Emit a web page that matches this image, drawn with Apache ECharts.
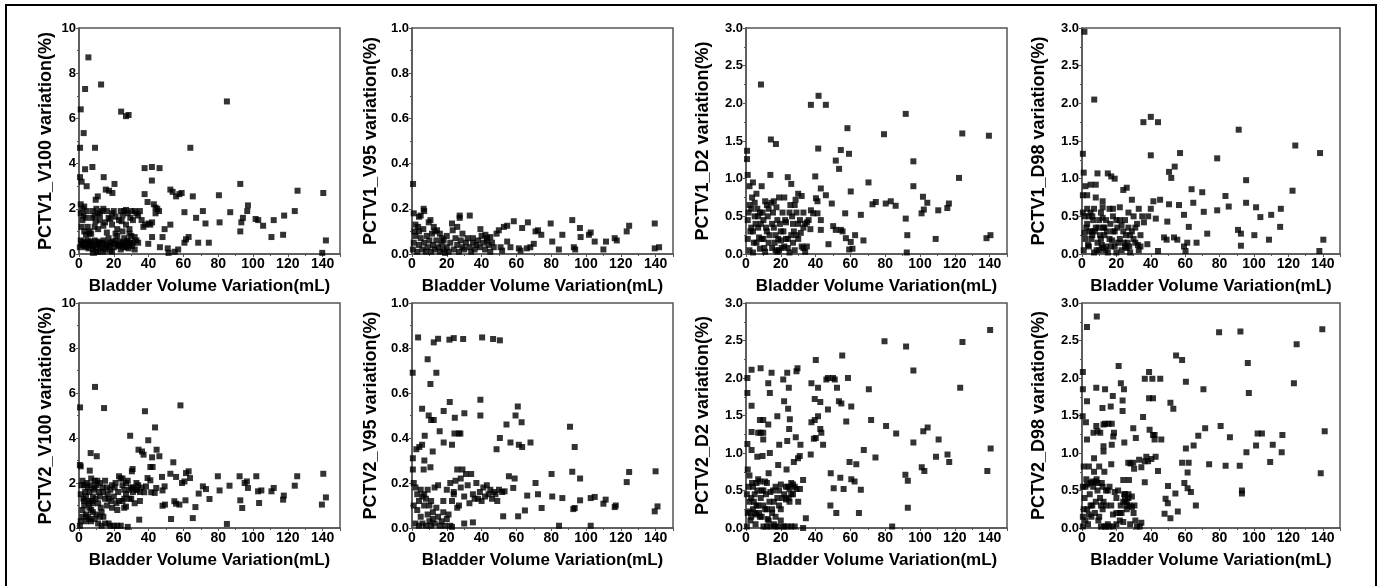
<!DOCTYPE html>
<html>
<head>
<meta charset="utf-8" />
<title>PCTV variation vs bladder volume</title>
<script src="https://cdn.jsdelivr.net/npm/echarts@6/dist/echarts.min.js"></script>
<style>
  html, body { margin: 0; padding: 0; background: #fff; }
  #main { width: 1381px; height: 586px; }
</style>
</head>
<body>
<div id="main"></div>
<script>
// [bladder volume variation (mL), dose/volume variation (%)]
var pctv1V100 = [
  [5.4,8.7],[3.5,7.3],[12.7,7.5],[1,6.4],[24.2,6.3],[27,6.1],[28.5,6.15],[85,6.75],[2.7,5.35],[0.6,4.7],
  [9.2,4.7],[64,4.7],[3.5,3.75],[7.7,3.85],[0.6,3.4],[1.5,3.2],[4.4,3.0],[14.2,3.4],[20.4,3.1],[37.7,3.8],
  [41.9,3.85],[46.3,3.8],[41.9,3.25],[15.4,2.85],[17.3,2.8],[19.2,2.7],[9.6,2.4],[10.8,2.55],[37.7,2.65],[39.4,2.3],
  [43,2.2],[44,2.05],[52.5,2.85],[53.8,2.75],[55.8,2.55],[57.7,2.65],[59,2.7],[65.4,2.55],[80.4,2.6],[92.7,3.1],
  [125.6,2.8],[140.4,2.7],[60.6,1.85],[67.3,1.6],[71.2,1.9],[72.7,1.35],[80.8,1.4],[86.9,1.85],[97.1,2.15],[96.7,1.9],
  [94.2,1.6],[93.3,1.4],[92.7,1.0],[101.5,1.55],[103,1.5],[105.8,1.25],[111.9,1.5],[117.9,1.7],[124,1.9],[110.6,0.75],
  [117.3,0.85],[141.9,0.6],[139.8,0.05],[74.6,0.5],[68.5,0.5],[60.6,0.5],[61.5,0.65],[63,0.75],[52.5,1.3],[49.2,1.1],
  [48,0.75],[51,0.25],[57,0.2],[46.5,0.3],[42,0.75],[39.8,0.45],[51.5,0.05],[55,0.1],
  [1,2.2],[2,2.0],[3,2.1],[1,1.8],[2,1.5],[4,1.6],[5,1.2],[6,1.0],[7,0.9],[8,1.9],
  [9,1.7],[10,2.0],[11,1.8],[12,1.5],[13,1.9],[14,2.0],[15,1.4],[17,1.6],[19,1.8],[19,1.3],
  [20,1.9],[22,1.1],[23,1.5],[24,1.9],[25,1.7],[26,1.9],[27,1.3],[28,1.8],[29,1.1],[30,1.9],
  [31,1.5],[33,1.8],[34,1.7],[35,1.9],[36,1.5],[37,1.2],[38,1.3],[40,1.35],[41,1.3],[42,1.4],
  [44,1.8],[45,2.0],[46,1.9],
  [0.5,0.3],[1,0.6],[2,0.4],[3,0.5],[4,0.3],[5,0.6],[6,0.4],[7,0.5],[8,0.2],[9,0.6],
  [10,0.4],[11,0.1],[12,0.5],[13,0.3],[14,0.6],[15,0.2],[16,0.4],[17,0.7],[18,0.5],[19,0.1],
  [20,0.3],[21,0.6],[22,0.8],[23,0.4],[24,0.2],[25,0.5],[26,0.7],[27,0.3],[28,0.6],[29,0.4],
  [30,0.8],[31,0.5],[32,0.2],[33,0.6],[34,0.5],[8,0.05],[10,0.1],[14,0.1],[18,0.15],
  [3,1.0],[6,0.9],[11,1.1],[16,0.95],[21,0.9],[25,1.0],[29,0.9],[32,0.75],
  [1.5,0.45],[2.5,0.55],[3.5,0.35],[4.5,0.5],[5.5,0.25],[6.5,0.55],[7.5,0.35],[9.5,0.3],[10.5,0.55],[11.5,0.45],
  [12.5,0.25],[13.5,0.5],[15.5,0.45],[16.5,0.3],[17.5,0.4],[19.5,0.55],[20.5,0.45],[22.5,0.35],[23.5,0.55],[24.5,0.4],
  [25.5,0.3],[26.5,0.45],[27.5,0.55],[28.5,0.25],[29.5,0.5],[30.5,0.35],[2.5,1.7],[4.5,1.9],[7.5,1.6],[9.5,1.45],
  [12,1.75],[16,1.9],[18,1.55],[21,1.65],[24.5,1.45],[27,1.95],[29.5,1.6],[32,1.9],[1.5,1.2],[4,0.85],
  [9,1.2],[14,1.25]
];
var pctv1V95 = [
  [0.6,0.31],[1,0.18],[4,0.165],[5,0.17],[6.7,0.2],[7,0.19],[9.6,0.14],[10.6,0.15],[12.5,0.12],[14.4,0.105],
  [16,0.09],[17.3,0.07],[18.2,0.06],[23,0.135],[23.4,0.105],[27.4,0.17],[27.4,0.16],[33.2,0.17],[39.3,0.11],[42.2,0.085],
  [43.2,0.07],[48.6,0.09],[49.9,0.105],[52.8,0.12],[54.7,0.125],[58.5,0.145],[63.3,0.115],[66.6,0.14],[71,0.1],[72.4,0.105],
  [74.3,0.085],[79.7,0.135],[80.6,0.055],[86.4,0.085],[84.4,0.02],[92.1,0.15],[93,0.03],[93.8,0.02],[96.5,0.115],[96.9,0.075],
  [101.7,0.085],[102.7,0.095],[105,0.055],[110,0.02],[111.5,0.055],[116.5,0.07],[117.7,0.06],[123.4,0.1],[124.8,0.125],[139.5,0.135],
  [139.5,0.025],[142,0.03],[70,0.045],[66,0.025],[68,0.03],[61.4,0.025],[62.4,0.015],[54.7,0.055],[56.6,0.03],[50.9,0.03],
  [51.8,0.015],
  [0.5,0.02],[1,0.05],[1.5,0.1],[2,0.08],[3,0.01],[3.5,0.12],[4,0.04],[5,0.07],[6,0.02],[6.5,0.11],
  [7,0.05],[8,0.01],[8.5,0.08],[9,0.03],[10,0.06],[11,0.01],[11.5,0.09],[12,0.04],[13,0.02],[14,0.06],
  [15,0.03],[16,0.01],[17,0.045],[18,0.02],[19,0.005],[20,0.03],[21,0.01],[22,0.05],[24,0.02],[25,0.07],
  [26,0.04],[27,0.01],[28,0.06],[29,0.03],[30,0.02],[31,0.05],[32,0.07],[33,0.03],[34,0.01],[35,0.05],
  [36,0.02],[37,0.04],[38,0.06],[39,0.03],[40,0.08],[41,0.05],[42,0.02],[43,0.06],[44,0.04],[45,0.01],
  [46,0.05],[47,0.03],[26,0.12],[29,0.09],[20,0.08],[13,0.1],[4,0.1],[2,0.13],[35,0.07],[45,0.075]
];
var pctv1D2 = [
  [8.6,2.25],[41.7,2.1],[37.3,1.98],[45.9,1.98],[58.3,1.67],[91.8,1.86],[79.3,1.59],[124.3,1.6],[139.6,1.57],[14.3,1.52],
  [17.2,1.46],[41.5,1.4],[51.6,1.24],[53.5,1.13],[54.5,1.38],[59.2,1.33],[96.2,1.23],[0.6,1.37],[0.6,1.26],[122.4,1.01],
  [70.4,0.95],[60.2,0.83],[96.2,0.9],[72.7,0.66],[74.6,0.69],[80.3,0.67],[83.2,0.7],[86,0.64],[101.7,0.76],[100.9,0.54],
  [102.2,0.59],[104.2,0.68],[110.5,0.58],[115.7,0.61],[116.6,0.67],[91.8,0.47],[92.7,0.25],[92.4,0.02],[109,0.2],[138.2,0.21],
  [140.5,0.25],[66,0.52],[67.5,0.18],[62.7,0.25],[60.2,0.16],[61.2,0.07],[59.3,0.06],[57.4,0.21],[54.5,0.32],[55.5,0.3],
  [57,0.54],[49.3,0.67],[50.1,0.37],[51.6,0.32],[43,0.32],[47.4,0.13],[45.9,0.78],[43,0.87],[40.2,0.74],[41.1,0.7],
  [39.8,1.03],[41.1,0.54],[43,0.45],[38.6,0.54],[37.3,0.58],
  [1,1.05],[2,0.9],[3,0.6],[4,0.95],[5,0.5],[6,0.8],[7,0.35],[8,0.55],[9,0.9],[10,0.45],
  [11,0.7],[12,0.3],[13,0.6],[14,1.05],[15,0.4],[16,0.7],[17,0.25],[18,0.45],[19,0.75],[20,0.3],
  [21,0.55],[22,0.75],[23,0.2],[24,1.02],[25,0.55],[26,0.93],[27,0.4],[28,0.65],[29,0.25],[30,0.8],
  [31,0.45],[32,0.77],[33,0.35],[34,0.4],[35,0.1],[36,0.45],[1,0.2],[2,0.05],[3,0.35],[4,0.02],
  [6,0.15],[8,0.07],[10,0.2],[11,0.03],[13,0.15],[15,0.08],[17,0.05],[18,0.03],[20,0.18],[22,0.1],
  [24,0.08],[25,0.02],[27,0.15],[28,0.05],[30,0.2],[32,0.1],[34,0.03],[1,0.45],[2,0.65],[4,0.3],
  [5,0.68],[7,0.5],[9,0.2],[12,0.65],[16,0.35],[19,0.05],[23,0.42],[26,0.25],[29,0.55],[33,0.08],
  [37,0.33],[35,0.42],
  [1.5,0.55],[2.5,0.3],[3.5,0.75],[4.5,0.15],[5.5,0.4],[6.5,0.6],[7.5,0.22],[8.5,0.4],[9.5,0.55],[10.5,0.08],
  [11.5,0.35],[12.5,0.5],[13.5,0.25],[14.5,0.68],[15.5,0.55],[16.5,0.15],[17.5,0.62],[18.5,0.2],[19.5,0.4],[20.5,0.08],
  [21.5,0.3],[22.5,0.45],[24,0.2],[25.5,0.65],[26.5,0.5],[27.5,0.3],[28.5,0.72],[30,0.4],[31.5,0.28],[33,0.55]
];
var pctv1D98 = [
  [1.4,2.95],[7.1,2.05],[35.7,1.75],[40,1.82],[44.2,1.75],[40,1.31],[57,1.34],[0.5,1.33],[91.1,1.65],[78.6,1.27],
  [124,1.44],[138.4,1.34],[50.6,1.09],[51.9,1.01],[53.9,1.16],[63.7,0.86],[69.9,0.82],[122.4,0.84],[95.4,0.98],[83.4,0.77],
  [85.3,0.63],[95.4,0.68],[101.2,0.62],[103.7,0.49],[110,0.52],[115.6,0.6],[115.2,0.36],[108.7,0.19],[100.2,0.25],[90.7,0.32],
  [92.4,0.27],[92.4,0.11],[140.3,0.19],[138,0.04],[72.8,0.27],[70.8,0.56],[78.6,0.58],[64.7,0.68],[59.3,0.52],[56.4,0.65],
  [62.1,0.36],[66.6,0.15],[61.2,0.15],[59.3,0.1],[60.2,0.04],[55.4,0.19],[53.5,0.22],[49.6,0.43],[50.6,0.66],[49.2,0.19],
  [47.7,0.22],[45.4,0.72],[42.9,0.47],[38,0.13],[44.2,0.04],[38.5,0.5],[40,0.6],[41.5,0.7],
  [1,1.08],[2,0.9],[3,0.78],[4,0.5],[5,0.92],[6,0.3],[7,0.6],[8,0.75],[9,1.07],[10,0.45],
  [11,0.2],[12,0.7],[13,0.35],[14,0.1],[15,1.07],[16,0.6],[17,1.03],[18,0.3],[19,1.0],[20,0.45],
  [21,0.15],[22,0.62],[23,0.38],[24,0.85],[25,0.1],[26,0.88],[27,0.55],[28,0.25],[29,0.72],[30,0.5],
  [31,0.15],[32,0.4],[33,0.6],[34,0.1],[35,0.5],[36,0.42],[1,0.05],[2,0.2],[3,0.4],[4,0.1],
  [5,0.55],[6,0.25],[7,0.02],[8,0.35],[9,0.15],[10,0.05],[11,0.55],[12,0.08],[13,0.25],[14,0.45],
  [15,0.02],[16,0.2],[17,0.1],[19,0.3],[20,0.02],[22,0.2],[24,0.3],[25,0.45],[26,0.08],[27,0.35],
  [28,0.02],[30,0.2],[33,0.05],[0.5,0.55],[0.5,0.78],[1.5,0.28],[3,0.6],[6,0.5],[8,0.92],[12,0.48],
  [18,0.6],
  [1.5,0.5],[2.5,0.35],[3.5,0.12],[4.5,0.3],[5.5,0.2],[6.5,0.45],[7.5,0.3],[8.5,0.05],[9.5,0.35],[10.5,0.25],
  [11.5,0.12],[12.5,0.35],[13.5,0.05],[14.5,0.3],[16.5,0.4],[17.5,0.18],[19,0.1],[20.5,0.35],[22,0.45],[23,0.05],
  [24.5,0.15],[25.5,0.25],[26.5,0.15],[27.5,0.1],[29,0.3],[31,0.35],[32.5,0.12],[34,0.25],[12,0.62],[18,0.5]
];
var pctv2V100 = [
  [0.6,5.36],[9.2,6.27],[14.4,5.33],[37.9,5.19],[58.3,5.45],[43.7,4.47],[29.4,4.1],[34.2,3.48],[36.2,3.4],[37.1,3.26],
  [39.8,3.9],[44.6,3.48],[46.2,3.19],[42,3.14],[41,2.71],[42.3,2.71],[6.7,3.33],[10.2,3.19],[6.2,2.55],[1,2.74],
  [30.4,2.52],[30.8,2.62],[54.2,2.92],[52.5,2.41],[55.8,2.27],[61.5,2.44],[63,2.52],[63.8,2.22],[59.2,2.0],[60.6,2.07],
  [71.2,1.85],[73,1.73],[75,1.29],[68.8,1.53],[66.9,0.93],[65.4,0.44],[52.9,0.4],[57.7,1.04],[54.8,1.19],[55.8,1.08],
  [61.2,1.23],[79.8,2.3],[80.8,1.67],[86.5,1.88],[85,0.18],[92.3,2.3],[95.2,2.0],[96.5,2.07],[97.1,1.78],[92.7,1.23],
  [93.8,0.89],[101.9,2.3],[102.9,1.63],[104.8,1.67],[103.5,1.11],[110.6,1.63],[111.9,1.78],[117.3,1.26],[117.7,1.44],[124,1.88],
  [125.4,2.3],[140.4,2.41],[139.6,1.04],[141.9,1.36],[49.2,1.85],[48,1.67],[48,0.99],[49.4,1.04],[47.7,2.27],[41.5,1.59],
  [43.5,1.56],[44.4,1.78],[39.4,2.22],[41,2.12],[37.5,1.59],[38.5,1.85],[34.6,0.37],
  [1,1.5],[2,2.1],[3,1.2],[4,0.6],[5,1.8],[6,0.9],[7,2.2],[8,1.4],[9,0.4],[10,1.9],
  [11,1.1],[12,2.0],[13,0.7],[14,1.6],[15,2.1],[16,1.0],[17,0.2],[18,1.7],[19,0.9],[20,1.4],
  [21,2.0],[22,0.8],[23,1.2],[24,2.2],[25,1.9],[26,0.9],[27,1.5],[28,2.1],[29,1.7],[30,1.3],
  [31,1.8],[32,1.1],[33,1.7],[34,1.9],[35,1.6],[36,1.8],[1,0.3],[2,0.8],[3,1.9],[4,1.4],
  [5,0.5],[6,1.6],[7,0.3],[8,1.1],[9,1.8],[10,0.6],[11,0.2],[12,1.4],[13,0.1],[14,0.5],
  [15,0.2],[16,1.8],[17,1.3],[18,0.1],[20,0.1],[22,0.1],[24,0.1],[25,1.2],[26,1.3],[28,0.05],
  [0.5,0.1],[0.5,2.8],[3,1.0],[6,1.2],[8,0.7],[9,2.1],[12,0.5],[19,1.9],[23,2.3],[27,0.95],
  [30,1.8],[33,1.7],
  [1.5,1.9],[2.5,1.3],[3.5,1.6],[4.5,2.0],[5.5,1.1],[6.5,1.9],[7.5,1.2],[8.5,1.7],[9.5,1.3],[10.5,2.1],
  [11.5,1.6],[12.5,0.9],[13.5,1.8],[15,1.3],[16.5,1.5],[18.5,1.2],[20.5,1.8],[21.5,1.1],[22.5,1.6],[25,2.2],
  [26,1.7],[27,2.0],[29,1.3],[31,1.6],[33,2.0],[35,1.2],[2,0.5],[4,0.3],[6,0.4],[7,0.8]
];
var pctv2V95 = [
  [3.5,0.847],[12.5,0.825],[15,0.841],[21.5,0.837],[24,0.844],[29.4,0.84],[40.3,0.847],[46.6,0.84],[50.5,0.834],[0.4,0.69],
  [9,0.75],[10.6,0.64],[14,0.69],[5.8,0.53],[2.5,0.35],[4.2,0.36],[5.8,0.37],[7.3,0.41],[9.6,0.5],[11,0.48],
  [12.5,0.48],[11.9,0.34],[7.1,0.3],[6.7,0.26],[10.6,0.27],[15.9,0.43],[18.2,0.38],[18.2,0.52],[21.7,0.56],[23,0.37],
  [24.4,0.42],[24.6,0.49],[26.9,0.42],[27.8,0.42],[30.1,0.51],[39.3,0.57],[39.3,0.5],[48.6,0.35],[50.5,0.4],[54.3,0.46],
  [56.6,0.38],[59.5,0.5],[60.8,0.54],[61.4,0.37],[63.3,0.36],[63,0.47],[68.1,0.38],[90.8,0.45],[93.5,0.36],[96.6,0.22],
  [92.1,0.25],[92.7,0.084],[93.5,0.089],[96.6,0.123],[80.2,0.24],[80.6,0.14],[86.4,0.133],[84.5,0.01],[71,0.2],[72.4,0.15],
  [74.5,0.089],[66.2,0.144],[64.9,0.078],[61,0.052],[52.4,0.052],[55.7,0.23],[59,0.22],[58.2,0.178],[51.8,0.16],[53.2,0.163],
  [102.7,0.133],[105,0.138],[102.7,0.01],[110,0.108],[111.3,0.126],[116.5,0.093],[117.1,0.1],[123.4,0.204],[124.8,0.249],[139.5,0.074],
  [141.1,0.096],[140,0.252],
  [20,0.17],[22,0.2],[23,0.12],[24,0.15],[25,0.21],[26,0.26],[27,0.1],[28,0.18],[29,0.26],[30,0.14],
  [31,0.24],[32,0.19],[33,0.11],[34,0.24],[35,0.15],[36,0.13],[37,0.2],[38,0.13],[39,0.16],[40,0.12],
  [41,0.18],[42,0.14],[43,0.19],[44,0.15],[45,0.17],[46,0.13],[47,0.16],[48,0.15],[49,0.12],[50,0.17],
  [26,0.09],[30,0.02],[35,0.025],[23,0.005],[24,0.16],[28,0.22],
  [0.5,0.31],[0.5,0.26],[1,0.2],[1,0.1],[2,0.18],[2,0.02],[3,0.15],[3,0.08],[4,0.12],[4,0.01],
  [5,0.17],[5,0.05],[6,0.14],[6,0.02],[7,0.1],[7,0.15],[8,0.13],[8,0.01],[9,0.06],[9,0.17],
  [10,0.03],[10,0.1],[11,0.12],[11,0.01],[12,0.07],[12,0.04],[13,0.18],[13,0.02],[14,0.09],[15,0.05],
  [15,0.19],[16,0.01],[17,0.03],[18,0.07],[18,0.12],[19,0.01],[20,0.04],[21,0.06],[22,0.01]
];
var pctv2D2 = [
  [140.3,2.64],[124.4,2.48],[123.1,1.87],[79.6,2.49],[92,2.42],[96.2,2.1],[70.6,1.85],[71.9,1.44],[74.4,0.94],[67.7,1.04],
  [80.5,1.36],[86.3,1.26],[96.2,1.14],[101.9,1.29],[104.4,1.34],[110.7,1.18],[109.2,0.95],[115.8,0.98],[116.8,0.88],[101,0.81],
  [102.5,0.76],[91.6,0.71],[93,0.63],[93,0.27],[84,0.02],[138.7,0.76],[140.6,1.06],[55.3,2.3],[58.6,2.0],[57.6,1.42],
  [60.5,1.62],[52.3,1.87],[50,2.0],[51,1.98],[47.1,1.58],[53.4,1.69],[54.8,1.66],[46.2,1.98],[47.1,2.0],[40.1,2.24],
  [41.4,1.87],[42.7,1.68],[37.6,1.93],[39.5,1.72],[37.6,1.41],[39.5,1.44],[41.4,1.49],[42.7,1.32],[43.3,1.27],[44.3,1.11],
  [40.1,1.2],[39,1.19],[37.2,0.98],[48.5,0.3],[48.7,0.73],[50.4,0.53],[51.9,0.2],[54.2,0.67],[56.1,0.52],[59.5,0.88],
  [60.5,0.65],[62.4,0.62],[63.4,0.85],[66,0.51],[64.9,0.2],[32.8,0.64],[34.4,0.13],[32.8,0],[29.6,2.13],[29,2.09],
  [23.7,2.07],[24.6,1.87],[21.4,1.98],[21.9,1.69],[24.2,1.59],[25.2,1.45],[24.8,1.32],[23.7,1.16],[28.6,1.21],[31.3,1.11],
  [30.9,0.96],[29.9,0.93],[27.5,0.88],[23.3,0.78],[18,1.49],[19.1,1.11],[14.7,2.07],[12.8,1.93],[13.7,1.8],[12.8,1.38],
  [18.5,0.84],[8.4,2.13],[3.2,2.11],[0.8,2.0],[0.8,1.8],[3.2,1.63],[3.2,1.28],[7,1.27],[8.4,1.27],[9.9,1.27],
  [8,1.44],[9.9,1.44],[0.8,1.12],[3.2,1.04],[6.5,0.95],[9.5,0.96],[13.7,1.0],[9.9,1.18],
  [1,0.78],[2,0.7],[3,0.4],[4,0.55],[5,0.2],[6,0.6],[7,0.3],[8,0.62],[9,0.15],[10,0.5],
  [11,0.25],[12,0.6],[13,0.1],[14,0.48],[15,0.2],[16,0.05],[17,0.55],[18,0.02],[19,0.3],[20,0.1],
  [21,0.4],[22,0.02],[23,0.38],[24,0.55],[25,0.35],[26,0.6],[27,0.45],[28,0.02],[29,0.52],[30,0.35],
  [31,0.52],[1,0.2],[2,0.35],[3,0.15],[4,0.25],[5,0.45],[6,0.18],[7,0.65],[8,0.15],[10,0.02],
  [11,0.62],[12,0.02],[14,0.02],[15,0.25],[17,0.02],[19,0.5],[21,0.02],[24,0.02],[26,0.02],[0.5,0.02],
  [0.5,0.45],[2,0.22],[6,0.3],[9,0.5],[12,0.25],[16,0.35],[20,0.58],[25,0.52],[27,0.58],[13,0.73],
  [1.5,0.55],[2.5,0.1],[3.5,0.6],[4.5,0.35],[5.5,0.05],[6.5,0.5],[7.5,0.2],[8.5,0.4],[10,0.3],[11.5,0.45],
  [12.5,0.12],[13.5,0.35],[15.5,0.5],[17,0.15],[18,0.4],[20,0.25],[22,0.45],[23,0.55],[24.5,0.4],[26,0.45],
  [28,0.55]
];
var pctv2D98 = [
  [8.6,2.82],[2.9,2.68],[79.7,2.61],[92.1,2.62],[139.7,2.65],[124.8,2.45],[54.7,2.3],[58.2,2.24],[96.4,2.2],[21.3,2.16],
  [39,2.08],[36.5,1.99],[40.9,1.99],[45.5,1.99],[60.4,1.95],[70.6,1.85],[123.2,1.93],[97,1.8],[39,1.73],[41.3,1.73],
  [51.4,1.67],[53.1,1.59],[0.5,2.08],[0.5,1.85],[2.9,1.69],[8.3,1.87],[13.4,1.85],[22.6,1.93],[24.4,1.85],[17.9,1.76],
  [11.9,1.6],[16.7,1.62],[23.6,1.7],[23.6,1.56],[0.4,1.49],[2.3,1.41],[35.5,1.48],[2.9,1.18],[6.7,1.27],[8.3,1.36],
  [9,1.29],[10.6,1.27],[12.5,1.38],[13.4,1.39],[15.4,1.39],[17.3,1.39],[12.5,1.09],[12.5,1.02],[17.3,1.11],[18.2,1.22],
  [18.6,1.27],[24.6,1.14],[29.8,1.33],[31.3,1.2],[39.3,1.31],[41.3,1.24],[42.2,1.24],[42.2,1.18],[46.1,1.18],[71.6,1.33],
  [80.6,1.36],[86,1.21],[67.6,1.23],[64.9,1.1],[60.4,1.06],[102.1,1.26],[104.6,1.26],[101.2,1.1],[110.9,1.11],[116.5,1.24],
  [116.1,1.01],[95.6,1.01],[141.1,1.29],[138.8,0.73],[91.7,0.83],[83.5,0.83],[73.9,0.85],[109.4,0.88],[93,0.5],[93,0.46],
  [66.2,0.3],[63.3,0.48],[61.4,0.53],[62,0.87],[61.4,0.74],[58.2,0.87],[59.5,0.6],[54.3,0.46],[55.7,0.22],[51.4,0.13],
  [50,0.56],[48.6,0.39],[49.9,0.33],[48,0.19],[44.2,0.76],[42.8,0.95],[40.3,0.92],[37.4,0.95],[38.4,0.89],[36.5,0.89],
  [33.2,0.91],[34.5,0.81],[36.5,0.61],[34.5,0.07],[33.6,0.02],[30.3,0.79],[29.8,0.87],[28.2,0.86],[26.9,0.87],[24,0.64],
  [27.3,0.64],
  [1,0.82],[2,0.55],[3,0.25],[4,0.82],[5,0.6],[6,0.3],[7,0.93],[8,0.62],[9,0.5],[10,0.82],
  [11,0.3],[12,0.55],[13,0.02],[14,0.5],[15,0.05],[16,0.55],[17,0.3],[18,0.02],[19,0.48],[20,0.2],
  [21,0.5],[22,0.1],[23,0.2],[24,0.35],[25,0.45],[26,0.3],[27,0.4],[28,0.05],[29,0.28],[30,0.2],
  [31,0.1],[32,0.02],[1,0.25],[2,0.1],[3,0.58],[4,0.18],[5,0.3],[6,0.62],[7,0.75],[8,0.35],
  [10,0.15],[11,0.02],[12,0.25],[14,0.02],[16,0.02],[18,0.18],[20,0.05],[22,0.2],[24,0.08],[26,0.25],
  [0.5,0.55],[0.5,0.15],[0.5,0.02],[9,0.6],[13,0.75],[17,0.85],[25,0.38],[27,0.45],
  [1.5,0.4],[2.5,0.65],[3.5,0.05],[4.5,0.45],[5.5,0.15],[6.5,0.55],[7.5,0.2],[8.5,0.65],[9.5,0.1],[10.5,0.4],
  [11.5,0.6],[12.5,0.35],[14,0.3],[15,0.5],[20,0.4],[22.5,0.3],[24.5,0.45],[26,0.35],[27.5,0.3],[29,0.42],
  [30.5,0.3]
];

var panelData = [pctv1V100, pctv1V95, pctv1D2, pctv1D98, pctv2V100, pctv2V95, pctv2D2, pctv2D98];
var yNames = ['PCTV1_V100 variation(%)', 'PCTV1_V95 variation(%)', 'PCTV1_D2 variation(%)', 'PCTV1_D98 variation(%)',
              'PCTV2_V100 variation(%)', 'PCTV2_V95 variation(%)', 'PCTV2_D2 variation(%)', 'PCTV2_D98 variation(%)'];
var yMax = [10, 1, 3, 3, 10, 1, 3, 3];
var yStep = [2, 0.2, 0.5, 0.5, 2, 0.2, 0.5, 0.5];
var xName = 'Bladder Volume Variation(mL)';
var xMax = 150, xStep = 20;

// layout
var lefts = [79, 412, 746, 1082];
var widths = [261, 261, 261, 258];
var tops = [28, 303];
var heights = [226, 225];
var yNameGaps = [24, 32, 34, 34];
var axisColor = '#555';
var font = '"Liberation Sans", Arial, sans-serif';

var grids = [], xAxes = [], yAxes = [], series = [];
for (var i = 0; i < 8; i++) {
    var col = i % 4, row = Math.floor(i / 4);
    grids.push({
        left: lefts[col], top: tops[row], width: widths[col], height: heights[row],
        show: true, borderColor: axisColor, borderWidth: 1.5, backgroundColor: 'transparent'
    });
    xAxes.push({
        gridIndex: i, type: 'value', min: 0, max: xMax, interval: xStep,
        name: xName, nameLocation: 'middle', nameGap: 24,
        nameTextStyle: { fontFamily: font, fontWeight: 'bold', fontSize: 17, color: '#000' },
        axisLine: { show: true, onZero: false, lineStyle: { color: axisColor, width: 1.5 } },
        axisTick: { show: true, length: 3, lineStyle: { color: axisColor } },
        minorTick: { show: true, splitNumber: 2, length: 2, lineStyle: { color: axisColor } },
        splitLine: { show: false },
        axisLabel: { showMaxLabel: false, margin: 3, fontFamily: font, fontWeight: 'bold', fontSize: 14, color: '#000' }
    });
    var dec = yStep[i] < 1 ? 1 : 0;
    yAxes.push({
        gridIndex: i, type: 'value', min: 0, max: yMax[i], interval: yStep[i],
        name: yNames[i], nameLocation: 'middle', nameGap: yNameGaps[col],
        nameTextStyle: { fontFamily: font, fontWeight: 'bold', fontSize: 18, color: '#000' },
        axisLine: { show: true, onZero: false, lineStyle: { color: axisColor, width: 1.5 } },
        axisTick: { show: true, length: 3, lineStyle: { color: axisColor } },
        minorTick: { show: true, splitNumber: 2, length: 2, lineStyle: { color: axisColor } },
        splitLine: { show: false },
        axisLabel: {
            margin: 3, fontFamily: font, fontWeight: 'bold', fontSize: 13, color: '#000',
            formatter: (function (d) { return function (v) { return v.toFixed(d); }; })(dec)
        }
    });
    series.push({
        type: 'scatter', xAxisIndex: i, yAxisIndex: i,
        data: panelData[i], symbol: 'rect', symbolSize: 6,
        itemStyle: { color: '#000' }, silent: true
    });
}

var myChart = echarts.init(document.getElementById('main'));
myChart.setOption({
    animation: false,
    backgroundColor: '#fff',
    grid: grids,
    xAxis: xAxes,
    yAxis: yAxes,
    series: series,
    graphic: [{
        type: 'rect', shape: { x: 6, y: 5, width: 1370, height: 620 },
        style: { fill: null, stroke: '#000', lineWidth: 2 }, silent: true
    }]
});
</script>
</body>
</html>
